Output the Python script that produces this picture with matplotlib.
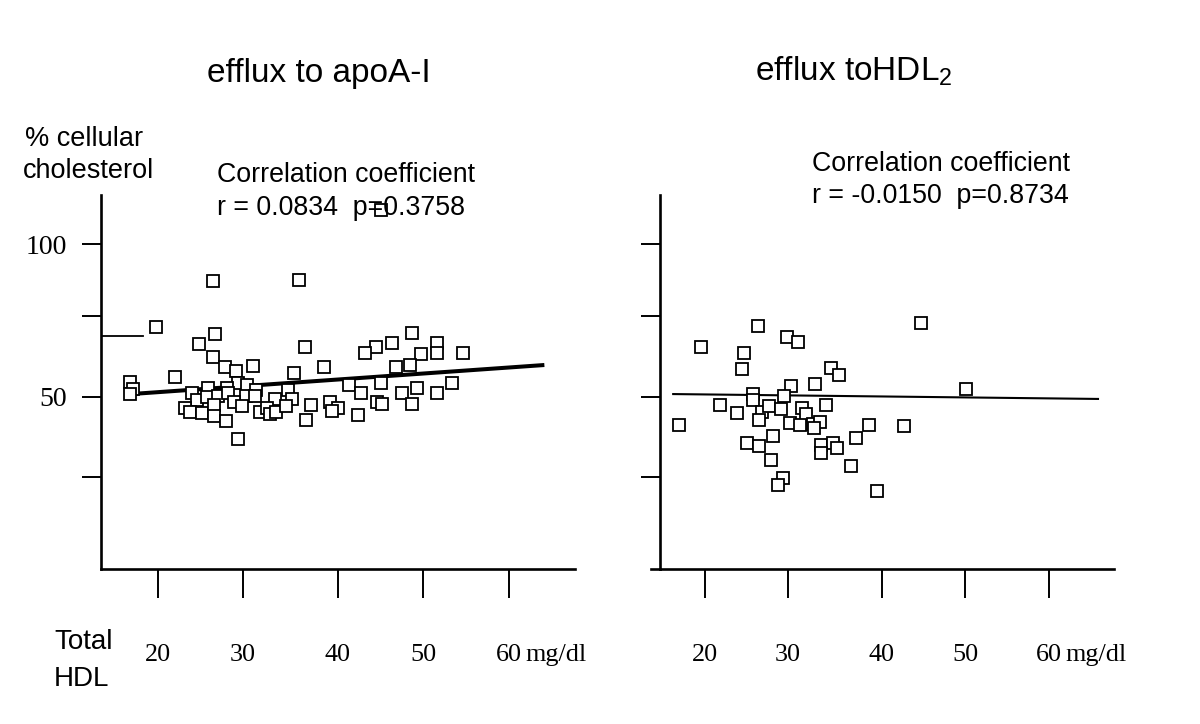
import matplotlib
matplotlib.use("Agg")
import matplotlib.pyplot as plt
from matplotlib.lines import Line2D

plt.rcParams['font.family'] = ['Liberation Sans', 'DejaVu Sans']
plt.rcParams['mathtext.fontset'] = 'custom'
plt.rcParams['mathtext.rm'] = 'Liberation Sans'

# ---------------- data ----------------
apoa_hdl = [26.30, 36.10, 19.74, 26.50, 24.67, 36.72, 26.30, 27.64, 28.85, 30.86,
            35.50, 38.92, 16.81, 17.19, 16.81, 21.94, 23.84, 25.73, 29.15, 30.11,
            27.90, 31.13, 34.85, 24.41, 25.55, 26.80, 28.01, 29.99, 31.05, 33.33,
            35.24, 23.08, 23.65, 24.98, 26.38, 26.38, 28.66, 29.54, 31.62, 32.46,
            32.76, 33.45, 34.59, 37.40, 27.75, 36.83, 29.08, 48.91, 46.63, 44.84,
            43.59, 51.76, 51.76, 49.94, 54.72, 47.12, 48.72, 41.77, 45.41, 53.54,
            43.10, 47.77, 49.48, 51.76, 39.60, 40.55, 39.86, 44.92, 45.49, 48.98,
            42.83, 45.41]
apoa_efflux = [88.0, 88.3, 72.9, 70.5, 67.3, 66.2, 63.1, 59.8, 58.5, 60.1,
               57.8, 59.7, 54.9, 52.5, 50.8, 56.5, 51.1, 52.9, 54.5, 53.8,
               52.7, 52.1, 52.1, 48.9, 49.9, 50.3, 51.1, 50.3, 50.3, 49.1,
               49.1, 46.1, 45.0, 44.5, 47.2, 43.6, 48.3, 47.0, 45.0, 46.3,
               44.3, 45.0, 46.9, 47.2, 42.0, 42.3, 36.0, 71.0, 67.7, 66.2,
               64.2, 67.7, 64.2, 63.9, 64.2, 59.6, 60.3, 53.8, 54.3, 54.3,
               51.1, 51.1, 52.9, 51.1, 48.3, 46.1, 45.2, 48.3, 47.5, 47.5,
               43.9, 111.3]
apoa_fit_x = [16.9, 63.8]
apoa_fit_y = [50.8, 60.3]

hdl2_hdl = [26.13, 45.12, 19.50, 29.50, 30.85, 24.53, 24.30, 34.65, 35.62, 30.00,
            32.83, 50.35, 25.55, 25.62, 29.19, 21.78, 23.76, 26.59, 27.48, 28.80,
            26.31, 31.24, 31.71, 34.03, 16.98, 29.88, 31.05, 32.52, 33.37, 32.67,
            39.10, 43.10, 27.94, 37.52, 24.85, 26.28, 33.45, 34.92, 35.38, 33.45,
            27.64, 36.94, 29.03, 28.52, 40.00]
hdl2_efflux = [73.2, 74.1, 66.2, 69.6, 67.9, 64.2, 59.1, 59.5, 57.0, 53.5,
               54.0, 52.4, 50.8, 48.9, 50.2, 47.1, 44.5, 45.0, 46.9, 45.8,
               42.3, 46.1, 44.4, 47.1, 40.5, 41.2, 40.7, 40.9, 41.5, 39.8,
               40.5, 40.3, 37.0, 36.4, 34.6, 33.8, 34.0, 34.8, 33.2, 31.5,
               29.1, 27.2, 23.1, 20.9, 19.1]
hdl2_fit_x = [16.3, 65.7]
hdl2_fit_y = [50.8, 49.2]

x_tick_labels = ['20', '30', '40', '50', '60']
y_tick_labels = ['', '50', '', '100']

# hand-drawn axis tick positions
left_xticks = [20, 29.69, 40.51, 50.2, 60]
right_xticks = [20, 29.65, 40.58, 50.23, 60]
yticks = [23.4, 50, 76.5, 100]

# ---------------- figure ----------------
W, H = 1200, 724
fig = plt.figure(figsize=(W / 100, H / 100), dpi=100)


def px_axes(x0, x1, y0, y1):
    return fig.add_axes([x0 / W, 1 - y1 / H, (x1 - x0) / W, (y1 - y0) / H])


axL = px_axes(101, 575, 195, 569)
axR = px_axes(660, 1114, 195, 569)

serif = 'Liberation Serif'

for ax, xt in ((axL, left_xticks), (axR, right_xticks)):
    for s in ('top', 'right'):
        ax.spines[s].set_visible(False)
    for s in ('left', 'bottom'):
        ax.spines[s].set_linewidth(1.9)
    ax.set_ylim(-6.67, 116.2)
    ax.set_xticks(xt)
    ax.set_xticklabels(x_tick_labels, fontfamily=serif, fontsize=18.8)
    ax.set_yticks(yticks)
    ax.tick_params(axis='x', direction='out', length=21, width=1.4, pad=33)
    ax.tick_params(axis='y', direction='out', length=13.7, width=1.4, pad=11)
    ax.annotate('mg/dl', xy=(60, 0), xycoords=('data', 'axes fraction'),
                xytext=(12, -54), textcoords='offset points',
                ha='left', va='top', fontfamily=serif, fontsize=18.8)

axL.set_xlim(13.504, 67.52)
axR.set_xlim(14.767, 67.56)
axL.set_yticklabels(y_tick_labels, fontfamily=serif, fontsize=20)
axR.set_yticklabels([''] * len(yticks))

mk = dict(linestyle='none', marker='s', markersize=8.2, markerfacecolor='white',
          markeredgecolor='black', markeredgewidth=1.3)

axL.plot(apoa_fit_x, apoa_fit_y, color='black', lw=2.9, zorder=2)
axL.plot(apoa_hdl, apoa_efflux, zorder=3, clip_on=False, **mk)
# stray short line on the left axis
axL.plot([13.504, 18.3], [69.9, 69.9], color='black', lw=1.3)

axR.plot(hdl2_fit_x, hdl2_fit_y, color='black', lw=1.5, zorder=2)
axR.plot(hdl2_hdl, hdl2_efflux, zorder=3, **mk)
# bottom line of right panel extends slightly to the left
axR.add_line(Line2D([-9 / 454, 0], [0, 0], transform=axR.transAxes,
                    color='black', lw=1.9, clip_on=False))


def ftext(x, y, s, **kw):
    fig.text(x / W, 1 - y / H, s, va='baseline', ha='left', **kw)


ftext(207, 82, 'efflux to apoA-I', fontsize=24)
ftext(755, 80, r'efflux toHDL$_\mathregular{2}$', fontsize=24)
ftext(25, 146, '% cellular', fontsize=19.5)
ftext(23, 178, 'cholesterol', fontsize=19.5)
ftext(217, 182, 'Correlation coefficient', fontsize=19.3)
ftext(217, 215, 'r = 0.0834  p=0.3758', fontsize=19.3)
ftext(812, 171, 'Correlation coefficient', fontsize=19.3)
ftext(812, 203, 'r = -0.0150  p=0.8734', fontsize=19.3)
ftext(54, 649, 'Total', fontsize=20)
ftext(54, 686, 'HDL', fontsize=20)

fig.savefig('out.png', dpi=100)
